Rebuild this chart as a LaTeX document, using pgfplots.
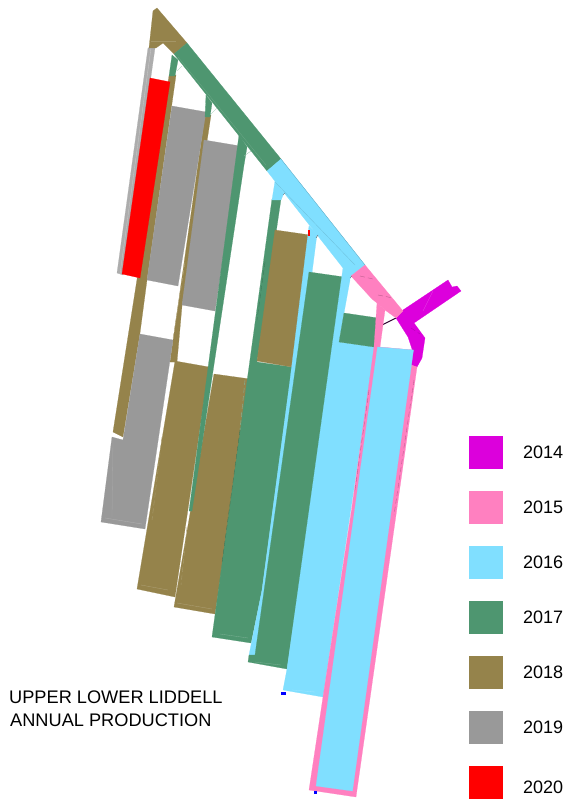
\documentclass[border=0pt]{standalone}
\usepackage{pgfplots}
\usepackage{fontspec}
\setmainfont{Liberation Sans}
\pgfplotsset{compat=1.18}
\definecolor{c14}{HTML}{DC00DC}
\definecolor{c15}{HTML}{FF80C0}
\definecolor{c16}{HTML}{80DFFF}
\definecolor{c17}{HTML}{4E9670}
\definecolor{c18}{HTML}{95834B}
\definecolor{c19}{HTML}{999999}
\definecolor{c20}{HTML}{FF0000}
\tikzset{
    blk/.style = {fill=#1, draw=#1, line width=0.2pt},
    fine/.style = {draw=#1, line width=0.3pt, no markers},
    dash/.style = {draw=#1, line width=0.4pt, no markers, dash pattern=on 5pt off 3pt},
    lab/.style = {anchor=base west, inner sep=0pt, font=\fontsize{18}{20}\selectfont},
    lab2/.style = {anchor=base west, inner sep=0pt, font=\fontsize{18.2}{20}\selectfont}
}
\begin{document}
\begin{tikzpicture}
\begin{axis}[
    width=573pt, height=799pt, scale only axis,
    xmin=0, xmax=573, ymin=0, ymax=799,
    y dir=reverse,
    hide axis,
    clip=false
]
% page corners
\addplot[draw=none] coordinates {(0,0) (573,799)};

% 2019 strip on the far left
\addplot[blk=c19!80!white] coordinates {(148,48) (155,48) (123,275) (117,273)} -- cycle;
\addplot[fine=c19!50!white] coordinates {(151,48) (120,274)};
% 2018 top triangle and long strips
\addplot[blk=c18] coordinates {(153,11) (157,8) (187,43) (174,54) (163,43) (156,48) (149,48)} -- cycle;
\addplot[fine=c18!85!white] coordinates {(151,41) (176,41)};
\addplot[blk=c18] coordinates {(169,76) (176,75) (147,280) (140,333) (123,437) (113,432)} -- cycle;
\addplot[blk=c18] coordinates {(205,115) (211,115) (182,306) (177,362) (170,362)} -- cycle;
\addplot[dash=c18!70!white] coordinates {(185,262) (172,345)};
% 2020
\addplot[blk=c20] coordinates {(150,78) (170,82) (140,278) (122,274)} -- cycle;
% 2019 panels
\addplot[blk=c19] coordinates {(172,106) (206,112) (178,286) (147,280)} -- cycle;
\addplot[blk=c19] coordinates {(204,140) (240,146) (215,311) (182,305)} -- cycle;
\addplot[blk=c19] coordinates {(140,334) (173,340) (145,529) (101,522) (112,437) (123,440)} -- cycle;
\addplot[fine=c19!85!white] coordinates {(113,440) (112,517)};
\addplot[fine=c19!75!white] coordinates {(105,518) (142,524)};
% 2018 panels
\addplot[blk=c18] coordinates {(175,361) (209,367) (175,597) (137,589)} -- cycle;
\addplot[blk=c18] coordinates {(214,374) (250,379) (215,614) (174,607)} -- cycle;
\addplot[dash=c18!80!white] coordinates {(162,437) (152,520)};
\addplot[dash=c18!80!white] coordinates {(187,527) (181,585)};
\addplot[fine=c18!75!white] coordinates {(141,585) (168,590)};
\addplot[fine=c18!75!white] coordinates {(177,603) (212,609)};
% 2017 band and stems
\addplot[blk=c17] coordinates {(187,43) (281,159) (267,171) (174,54)} -- cycle;
\addplot[blk=c17] coordinates {(172,55) (178,60) (175,76) (169,76)} -- cycle;
\addplot[blk=c17] coordinates {(206,95) (212,103) (210,117) (205,117)} -- cycle;
\addplot[blk=c17] coordinates {(239,135) (247,147) (244,165) (192,511) (189,511) (237,150)} -- cycle;
\addplot[blk=c17] coordinates {(272,199) (281,199) (257,362) (292,367) (262,590) (251,643) (212,637)} -- cycle;
\addplot[dash=c17!70!white] coordinates {(245,380) (240,430)};
\addplot[dash=c17!80!black] coordinates {(240,430) (222,563)};
\addplot[dash=c17!80!black] coordinates {(265,262) (257,320)};
\addplot[fine=c17!75!white] coordinates {(220,634) (248,638)};
% 2018 panel on top of the 2017 one
\addplot[blk=c18] coordinates {(275,230) (310,235) (292,367) (257,361)} -- cycle;
% 2016 stem between the 2017 panels
\addplot[blk=c16] coordinates {(309,226) (317,234) (270,600) (255,655) (249,655) (262,590) (290,380)} -- cycle;
% 2017 panel
\addplot[blk=c17] coordinates {(309,272) (344,277) (287,669) (248,662) (249,655) (255,655)} -- cycle;
\addplot[fine=c17!75!white] coordinates {(255,662) (281,665)};
% 2016 band and stems
\addplot[blk=c16] coordinates {(281,159) (365,265) (351,276) (349,282) (343,268) (267,171)} -- cycle;
\addplot[fine=c16!75!black] coordinates {(281,159) (365,265)};
\addplot[blk=c16] coordinates {(275,181) (284,193) (281,200) (272,200)} -- cycle;
\addplot[blk=c16] coordinates {(343,268) (350,280) (344,313) (339,342) (375,347) (323,697) (283,690) (287,669)} -- cycle;
\addplot[fine=c16!75!white] coordinates {(292,690) (315,692)};
\addplot[blk=c17] coordinates {(344,313) (378,318) (374,347) (339,342)} -- cycle;
% 2014
\addplot[blk=c14] coordinates {(448,280) (452,287) (457,286) (461,291) (414,323) (425,338) (422,358) (417,367) (411,365) (412,349) (408,337) (396,318) (403,310)} -- cycle;
\addplot[fine=c14!75!white] coordinates {(433,291) (423,311)};
\addplot[dash=c14!80!black] coordinates {(411,328) (420,334)};
\addplot[draw=black!80!c14, line width=1pt] coordinates {(382,325) (396,318)};
% 2015
\addplot[blk=c15] coordinates {(365,265) (403,311) (396,318) (385,310) (377,303) (372,299) (351,276)} -- cycle;
\addplot[dash=c15!75!black] coordinates {(360,276) (373,279)};
\addplot[dash=c15!75!black] coordinates {(378,295) (393,298)};
\addplot[blk=c15] coordinates {(377,303) (385,310) (380,347) (413,350) (411,365) (417,367) (356,797) (309,790) (323,697) (351.5,510) (369.5,380) (374,347)} -- cycle;
\addplot[blk=c16] coordinates {(377.5,347) (413.5,350) (352.5,791) (316,786)} -- cycle;
\addplot[dash=c15!75!black] coordinates {(414,380) (394,515)};
\addplot[dash=c15!75!black] coordinates {(369,390) (355,490)};

% small survey marks
\addplot[blk=blue] coordinates {(281,692) (285,692) (285,694) (281,694)} -- cycle;
\addplot[blk=blue] coordinates {(314,791) (316,791) (316,793) (314,793)} -- cycle;
\addplot[blk=c20] coordinates {(308,230) (309,230) (309,235) (308,235)} -- cycle;
\addplot[fine=c17!60!white] coordinates {(177,71) (182,66)};
\addplot[fine=c17!60!white] coordinates {(210,115) (217,108)};
\addplot[fine=c17!60!white] coordinates {(244,156) (251,151)};
\addplot[fine=black!70] coordinates {(283,195) (285,193)};
\addplot[fine=black!70] coordinates {(316,238) (318,235)};
\addplot[fine=black!70] coordinates {(350,278) (352,276)};
\addplot[fine=c17!85!white] coordinates {(178,57) (266,165)};
\addplot[fine=c16!85!black] coordinates {(275,182) (355,265)};

% legend
\addplot[blk=c14] coordinates {(469,436) (502,436) (502,468) (469,468)} -- cycle;
\addplot[blk=c15] coordinates {(469,491) (502,491) (502,523) (469,523)} -- cycle;
\addplot[blk=c16] coordinates {(469,546) (502,546) (502,578) (469,578)} -- cycle;
\addplot[blk=c17] coordinates {(469,601) (502,601) (502,633) (469,633)} -- cycle;
\addplot[blk=c18] coordinates {(469,656) (502,656) (502,688) (469,688)} -- cycle;
\addplot[blk=c19] coordinates {(469,711) (502,711) (502,743) (469,743)} -- cycle;
\addplot[blk=c20] coordinates {(469,766) (502,766) (502,798) (469,798)} -- cycle;
\node[lab] at (axis cs:523,458) {2014};
\node[lab] at (axis cs:523,513) {2015};
\node[lab] at (axis cs:523,568) {2016};
\node[lab] at (axis cs:523,623) {2017};
\node[lab] at (axis cs:523,678) {2018};
\node[lab] at (axis cs:523,733) {2019};
\node[lab] at (axis cs:523,793) {2020};
\node[lab2] at (axis cs:9,703) {UPPER LOWER LIDDELL};
\node[lab2] at (axis cs:10,726) {ANNUAL PRODUCTION};
\end{axis}
\end{tikzpicture}
\end{document}
